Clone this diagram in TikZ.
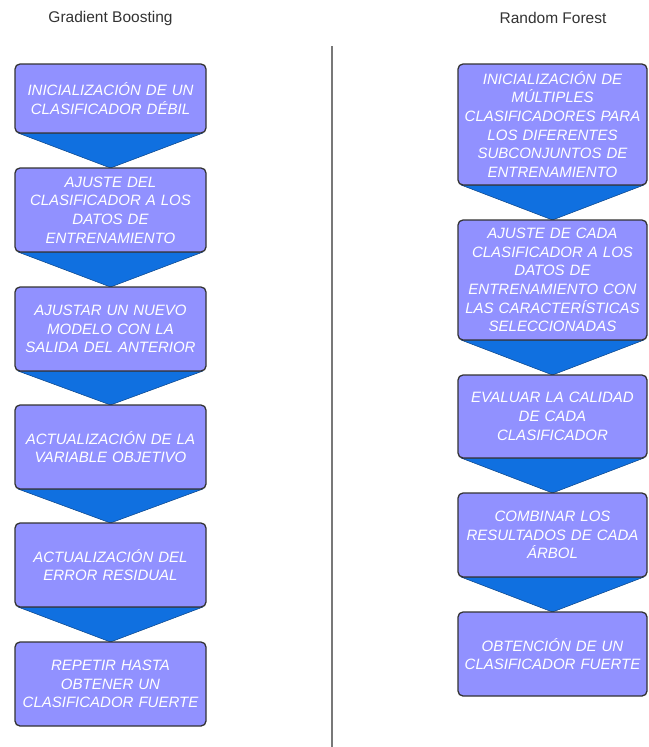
\documentclass[tikz,border=0pt]{standalone}
\usepackage{fontspec}
\setmainfont{Liberation Sans}
\usetikzlibrary{positioning,backgrounds}

\definecolor{boxviolet}{RGB}{145,145,255}
\definecolor{tipblue}{RGB}{16,112,224}
\definecolor{edgegray}{RGB}{51,51,51}
\definecolor{titlegray}{RGB}{51,51,51}
\definecolor{rulegray}{RGB}{120,120,120}
\tikzstyle{stepstyle} = [rectangle,
minimum height=84pt,
inner xsep=0pt,
inner ysep=0pt,
outer sep=0pt,
text centered,
align=center,
draw=edgegray,
line width=1.3pt,
rounded corners=5pt,
fill=boxviolet,
text=white,
font=\fontsize{15}{18.7}\selectfont\itshape]
\tikzstyle{gbstyle} = [stepstyle, text width=191pt]
\tikzstyle{rfstyle} = [stepstyle, text width=189pt]
\tikzstyle{titlestyle} = [text=titlegray, font=\fontsize{15.5}{18}\selectfont]
\tikzstyle{tipstyle} = [fill=tipblue, draw=tipblue!60!black, line width=0.5pt, line join=round]

\begin{document}
\begin{tikzpicture}[x=1pt, y=1pt, node distance=35pt]
\useasboundingbox (0,0) rectangle (648,-747);

% titles
\node (gbtitle) [titlestyle] at (110.5,-18) {Gradient Boosting};
\node (rftitle) [titlestyle] at (553,-18) {Random Forest};

% divider
\coordinate (ruletop) at (332,-46);
\coordinate (rulebottom) at (332,-747);
\draw [rulegray, line width=2pt] (ruletop) -- (rulebottom);

% Gradient Boosting
\node (gb1) [gbstyle, anchor=north, minimum height=69pt] at (110.5,-64) {INICIALIZACIÓN DE UN\\CLASIFICADOR DÉBIL};
\node (gb2) [gbstyle, below=35pt of gb1] {AJUSTE DEL\\CLASIFICADOR A LOS\\DATOS DE\\ENTRENAMIENTO};
\node (gb3) [gbstyle, below=35pt of gb2] {AJUSTAR UN NUEVO\\MODELO CON LA\\SALIDA DEL ANTERIOR};
\node (gb4) [gbstyle, below=34pt of gb3] {ACTUALIZACIÓN DE LA\\VARIABLE OBJETIVO};
\node (gb5) [gbstyle, below=34pt of gb4] {ACTUALIZACIÓN DEL\\ERROR RESIDUAL};
\node (gb6) [gbstyle, below=35pt of gb5] {REPETIR HASTA\\OBTENER UN\\CLASIFICADOR FUERTE};

% Random Forest
\node (rf1) [rfstyle, anchor=north, minimum height=121pt] at (552.5,-64) {INICIALIZACIÓN DE\\MÚLTIPLES\\CLASIFICADORES PARA\\LOS DIFERENTES\\SUBCONJUNTOS DE\\ENTRENAMIENTO};
\node (rf2) [rfstyle, below=35pt of rf1, minimum height=120pt] {AJUSTE DE CADA\\CLASIFICADOR A LOS\\DATOS DE\\ENTRENAMIENTO CON\\LAS CARACTERÍSTICAS\\SELECCIONADAS};
\node (rf3) [rfstyle, below=35pt of rf2, minimum height=83pt] {EVALUAR LA CALIDAD\\DE CADA\\CLASIFICADOR};
\node (rf4) [rfstyle, below=35pt of rf3] {COMBINAR LOS\\RESULTADOS DE CADA\\ÁRBOL};
\node (rf5) [rfstyle, below=35pt of rf4] {OBTENCIÓN DE UN\\CLASIFICADOR FUERTE};

% pointers between steps
\begin{scope}[on background layer]
\foreach \a/\b in {gb1/gb2, gb2/gb3, gb3/gb4, gb4/gb5, gb5/gb6, rf1/rf2, rf2/rf3, rf3/rf4, rf4/rf5}
  \filldraw [tipstyle] ([xshift=3pt]\a.south west) -- ([xshift=-3pt]\a.south east) -- (\b.north) -- cycle;
\end{scope}
\end{tikzpicture}
\end{document}
